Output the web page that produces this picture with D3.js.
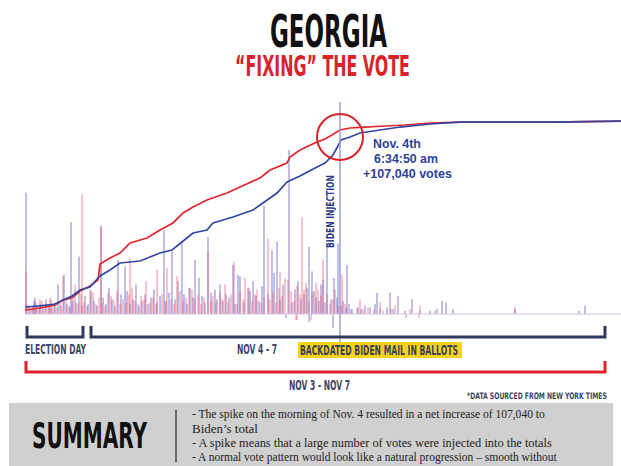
<!DOCTYPE html>
<html>
<head>
<meta charset="utf-8">
<script src="https://cdn.jsdelivr.net/npm/d3@7"></script>
<style>
  body { margin: 0; background: #fff; }
  svg { display: block; }
</style>
</head>
<body>
<script>
// cumulative totals (thousands of votes) at update index
const trumpTotals = [
  [0,51],[15,77],[30,115],[38,179],[47,205],[55,295],[65,359],[73,436],[75,641],[85,718],
  [95,782],[105,910],[122,974],[135,1077],[148,1167],[158,1295],[168,1372],[182,1462],
  [202,1551],[215,1628],[235,1744],[245,1846],[262,1936],[265,2013],[275,2103],[292,2205],
  [300,2244],[307,2295],[315,2359],[325,2385],[340,2397],[360,2410],[380,2423],[405,2449],
  [435,2461],[525,2461],[596,2474]
];
const bidenTotals = [
  [0,90],[15,103],[30,128],[38,179],[47,231],[55,308],[65,346],[75,487],[85,564],[95,654],
  [115,679],[135,782],[147,821],[157,923],[168,1038],[182,1077],[188,1167],[208,1244],
  [228,1333],[238,1423],[252,1551],[262,1692],[275,1769],[292,1885],[300,1936],[308,2038],
  [313,2154],[316,2231],[325,2269],[335,2321],[355,2359],[375,2397],[405,2436],[435,2461],
  [525,2461],[596,2474]
];

// per-update vote jumps (relative units) at update index
const bidenSpikes = [
  [1,74],[10,10],[33,18],[39,24],[46,56],[54,35],[76,54],[93,33],[100,29],[139,51],[147,38],
  [157,43],[170,33],[183,47],[190,15],[208,30],[215,23],[223,16],[239,66],[247,39],[252,44],
  [264,100],[284,41],[287,26],[298,21],[302,41],[313,43],[322,30],[352,13],[365,13],[373,11],
  [387,9],[417,8],[421,7],[490,3],[554,2],[560,5],
  [261,-2.4],[284,-4.9],[308,-8.5],
  [4,5],[7,3],[9,8],[12,4],[15,6],[18,3],[21,9],[24,5],[27,4],[30,7],[36,5],[42,6],[45,4],
  [48,9],[51,7],[57,5],[60,11],[63,6],[66,14],[69,8],[72,5],[78,10],[81,6],[84,16],[87,9],
  [90,5],[96,12],[102,14],[105,6],[108,9],[111,18],[114,5],[117,8],[120,12],[123,6],[126,10],
  [129,15],[132,7],[135,11],[141,8],[144,13],[150,9],[153,20],[159,12],[162,6],[165,16],
  [168,10],[174,22],[177,11],[180,7],[186,13],[192,9],[195,18],[198,8],[201,12],[204,10],
  [210,6],[213,24],[219,7],[225,14],[228,20],[231,11],[234,8],[237,17],[243,12],[249,25],
  [255,8],[258,18],[267,7],[270,15],[273,20],[276,9],[279,12],[282,16],[289,14],[291,10],
  [294,8],[296,18],[300,7],[306,9],[309,22],[312,10],[316,5],[318,8],[321,4],[324,6],[327,3],
  [333,4],[336,3],[340,5],[345,4],[350,6],[355,3],[362,4],[368,3],[380,2],[395,2],[405,2],
  [412,3],[428,3]
];
const trumpSpikes = [
  [1,26],[15,9],[25,10],[38,23],[50,18],[57,73],[65,15],[76,53],[83,13],[105,34],[121,20],
  [132,27],[142,28],[152,23],[164,16],[183,38],[195,13],[209,32],[220,22],[232,15],[243,46],
  [255,26],[263,21],[277,59],[279,15],[291,19],[298,33],[310,15],[317,24],[335,9],[355,7],
  [370,5],[395,5],[490,4],
  [272,-3.7],[271,-3.7],[286,-3.7],[381,-2.4],[394,-2.4],
  [2,6],[5,3],[8,5],[11,7],[14,4],[17,8],[20,5],[23,4],[26,9],[29,6],[32,4],[35,7],[41,10],
  [44,5],[47,8],[53,6],[56,12],[59,7],[62,5],[68,13],[71,6],[74,10],[77,7],[80,5],[86,11],
  [89,8],[92,14],[95,6],[98,9],[101,7],[104,12],[107,16],[110,8],[113,6],[116,11],[119,9],
  [125,7],[128,10],[131,6],[137,12],[140,8],[146,9],[149,6],[155,14],[158,8],[161,10],
  [167,15],[170,9],[173,12],[176,6],[179,10],[186,8],[188,11],[191,7],[197,9],[200,18],
  [203,7],[206,12],[212,6],[215,14],[218,9],[224,16],[227,8],[230,12],[236,7],[239,10],
  [245,9],[248,13],[251,7],[254,16],[257,11],[260,22],[266,14],[269,8],[272,17],[275,12],
  [281,19],[284,7],[287,13],[293,15],[296,11],[302,12],[305,6],[308,9],[313,5],[320,6],
  [326,3],[332,4],[338,3],[343,4],[349,3],[358,2],[366,3],[385,3],[410,2]
];

const injectionIdx = 315;
const summaryLines = [
  "- The spike on the morning of Nov. 4 resulted in a net increase of 107,040 to",
  "Biden\u2019s total",
  "- A spike means that a large number of votes were injected into the totals",
  "- A normal vote pattern would look like a natural progression \u2013 smooth without"
];
const summaryWidths = [353, 66, 360, 365];

const W = 621, H = 466;
const cond = "'Liberation Sans Narrow', 'DejaVu Sans Condensed', 'Arial Narrow', sans-serif";

const svg = d3.select('body').append('svg').attr('width', W).attr('height', H);

const x = d3.scaleLinear().domain([0, 600]).range([25, 625]);
const yLine = d3.scaleLinear().domain([0, 2500]).range([314, 119]);
const yBar = d3.scaleLinear().domain([0, 100]).range([314, 150]);

// text squeezed horizontally to a given width
function label(txt, x0, y0, size, len, color, fam, weight) {
  const t = svg.append('text')
    .attr('font-family', fam || cond)
    .attr('font-weight', weight || 'bold')
    .attr('font-size', size)
    .attr('fill', color)
    .text(txt);
  const w = t.node().getComputedTextLength();
  t.attr('transform', `translate(${x0},${y0}) scale(${len / w},1)`);
  return t;
}

// titles
label('GEORGIA', 270, 47, 44, 117, '#111');
label('\u201CFIXING\u201D THE VOTE', 235, 76, 29, 175, '#d9232a');

// spikes
function drawSpikes(data, color, op) {
  svg.append('g').selectAll('rect').data(data).join('rect')
    .attr('x', d => x(d[0]) - 0.7)
    .attr('width', 1.4)
    .attr('y', d => d[1] >= 0 ? yBar(d[1]) : yBar(0))
    .attr('height', d => Math.abs(yBar(d[1]) - yBar(0)))
    .attr('fill', color)
    .attr('opacity', op);
}
drawSpikes(bidenSpikes, '#6a66c8', 0.6);
drawSpikes(trumpSpikes, '#ea6279', 0.55);

svg.append('line')
  .attr('x1', x(0)).attr('x2', W).attr('y1', yBar(0)).attr('y2', yBar(0))
  .attr('stroke', '#cfc6e0').attr('stroke-width', 1);

// cumulative lines
const line = d3.line().x(d => x(d[0])).y(d => yLine(d[1]));
svg.append('path').datum(trumpTotals).attr('d', line)
  .attr('fill', 'none').attr('stroke', '#e0262e').attr('stroke-width', 1.7);
svg.append('path').datum(bidenTotals).attr('d', line)
  .attr('fill', 'none').attr('stroke', '#3347a0').attr('stroke-width', 1.7);

// injection marker
const xi = x(injectionIdx);
svg.append('line').attr('x1', xi).attr('x2', xi).attr('y1', 102).attr('y2', 343)
  .attr('stroke', '#9c9ed6').attr('stroke-width', 1.5);
svg.append('circle').attr('cx', xi).attr('cy', 137).attr('r', 23)
  .attr('fill', 'none').attr('stroke', '#d9232a').attr('stroke-width', 2);

const inj = svg.append('text')
  .attr('font-family', cond).attr('font-weight', 'bold').attr('font-size', 11)
  .attr('fill', '#2b3a8a').text('BIDEN INJECTION');
const injW = inj.node().getComputedTextLength();
inj.attr('transform', `translate(${xi - 6},248) rotate(-90) scale(${73 / injW},1)`);

const ann = ['Nov. 4th', '6:34:50 am', '+107,040 votes'];
const annX = [373, 374, 363], annY = [148, 163, 178], annW = [48, 64, 89];
ann.forEach((t, i) => label(t, annX[i], annY[i], 13, annW[i], '#2f3f99', "'Liberation Sans', Arial, sans-serif"));

// brackets
function bracket(a, b, top, bottom, color) {
  svg.append('path')
    .attr('d', `M${x(a)},${top}V${bottom}H${x(b)}V${top}`)
    .attr('fill', 'none').attr('stroke', color).attr('stroke-width', 3);
}
bracket(2, 58, 326, 337, '#2e3b5e');
bracket(66, 580, 326, 337, '#2e3b5e');
bracket(1, 580, 361, 372, '#e0202a');

label('ELECTION DAY', 25, 354, 14, 61, '#3d4663');
label('NOV 4 - 7', 237, 354, 14, 40, '#3d4663');
svg.append('rect').attr('x', 298).attr('y', 342).attr('width', 164).attr('height', 16).attr('fill', '#f5d31c');
label('BACKDATED BIDEN MAIL IN BALLOTS', 300, 355, 14, 158, '#3a3f55');
label('NOV 3 - NOV 7', 289, 390, 14, 61, '#3d4663');
label('*DATA SOURCED FROM NEW YORK TIMES', 467, 399, 9, 140, '#3d4663');

// summary panel
svg.append('rect').attr('x', 9).attr('y', 403).attr('width', 604).attr('height', 63).attr('fill', '#d0d0d0');
label('SUMMARY', 32, 448, 36, 115, '#111');
svg.append('line').attr('x1', 176).attr('x2', 176).attr('y1', 410).attr('y2', 462)
  .attr('stroke', '#444').attr('stroke-width', 1.5);
const sy = [418, 432.5, 446.5, 460.5];
summaryLines.forEach((t, i) => {
  label(t, 192, sy[i], 11.5, summaryWidths[i], '#222', "'Liberation Serif', 'Times New Roman', serif", 'normal');
});
</script>
</body>
</html>
